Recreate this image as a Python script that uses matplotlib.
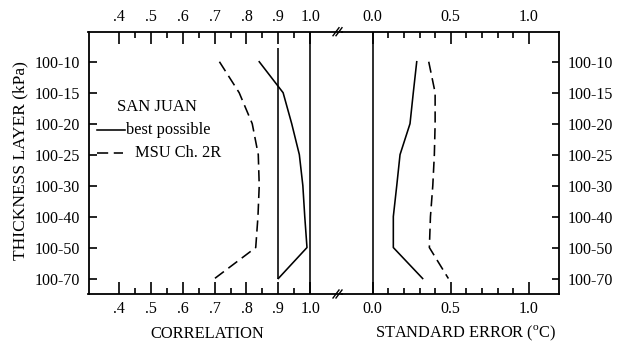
import matplotlib.pyplot as plt
from matplotlib.lines import Line2D
import numpy as np

plt.rcParams['font.family'] = ['Liberation Serif', 'DejaVu Serif']
plt.rcParams['mathtext.fontset'] = 'custom'
plt.rcParams['mathtext.rm'] = 'Liberation Serif'

# data
layers = ["100-10", "100-15", "100-20", "100-25", "100-30", "100-40", "100-50", "100-70"]
corr_best = [0.84, 0.915, 0.942, 0.966, 0.977, 0.983, 0.99, 0.90]
corr_msu = [0.715, 0.777, 0.818, 0.837, 0.84, 0.836, 0.829, 0.70]
se_best = [0.282, 0.26, 0.239, 0.175, 0.154, 0.132, 0.132, 0.32]
se_msu = [0.359, 0.40, 0.40, 0.395, 0.385, 0.37, 0.363, 0.485]

corr_ticks = [0.4, 0.5, 0.6, 0.7, 0.8, 0.9, 1.0]
corr_labels = [".4", ".5", ".6", ".7", ".8", ".9", "1.0"]
corr_minor = [0.45, 0.55, 0.65, 0.75, 0.85, 0.95]
se_ticks = [0.0, 0.5, 1.0]
se_labels = ["0.0", "0.5", "1.0"]
se_minor = [0.1, 0.2, 0.3, 0.4, 0.6, 0.7, 0.8, 0.9]

W, H = 622, 346
fig = plt.figure(figsize=(W / 100, H / 100), dpi=100)

# frame in pixels
x0, xmid, x1 = 88.5, 342.0, 559.3
ytop, ybot = 31.7, 294.0
bot = 1 - ybot / H
hgt = (ybot - ytop) / H
axL = fig.add_axes([x0 / W, bot, (xmid - x0) / W, hgt])
axR = fig.add_axes([xmid / W, bot, (x1 - xmid) / W, hgt])

y = np.arange(len(layers))
dash = (0, (7, 3.5))
lw = 1.15

# correlation panel
axL.plot(corr_best, y, color='black', lw=lw)
axL.plot(corr_msu, y, color='black', lw=lw, linestyle=dash)
axL.vlines(0.9, -0.45, 7, color='black', lw=lw)
axL.axvline(1.0, color='black', lw=lw)
axL.set_xlim(0.3037, 1.1)

# standard error panel
axR.plot(se_best, y, color='black', lw=lw)
axR.plot(se_msu, y, color='black', lw=lw, linestyle=dash)
axR.axvline(0.0, color='black', lw=lw)
axR.set_xlim(-0.197, 1.196)

for ax in (axL, axR):
    ax.set_ylim(7.5, -0.97)
    ax.set_yticks(y)
    for s in ax.spines.values():
        s.set_linewidth(1.3)
    ax.tick_params(axis='x', which='both', direction='in', top=True, bottom=True,
                   labeltop=True, labelbottom=True, labelsize=11.5, width=1.2, pad=5)
    ax.tick_params(axis='x', which='major', length=8.5)
    ax.tick_params(axis='x', which='minor', length=4.5)
    ax.set_facecolor('none')

axL.spines['right'].set_visible(False)
axR.spines['left'].set_visible(False)

axL.set_xticks(corr_ticks)
axL.set_xticklabels(corr_labels)
axL.set_xticks(corr_minor, minor=True)
axL.set_yticklabels(layers)
axL.tick_params(axis='y', direction='in', length=6, width=1.2, labelsize=11.5, pad=6)

axR.set_xticks(se_ticks)
axR.set_xticklabels(se_labels)
axR.set_xticks(se_minor, minor=True)
axR.yaxis.tick_right()
axR.set_yticklabels(layers)
axR.tick_params(axis='y', direction='in', length=5, width=1.2, labelsize=11.5, pad=6,
                left=False, right=True, labelleft=False, labelright=True)

# legend
axL.text(0.269, 0.714, "SAN JUAN", transform=axL.transAxes, ha='center', va='center', fontsize=12)
axL.add_line(Line2D([0.032, 0.144], [0.625, 0.625], transform=axL.transAxes, color='black', lw=lw))
axL.text(0.148, 0.625, "best possible", transform=axL.transAxes, ha='left', va='center', fontsize=11.8)
axL.add_line(Line2D([0.032, 0.136], [0.539, 0.539], transform=axL.transAxes, color='black',
                    lw=lw, linestyle=dash))
axL.text(0.183, 0.539, "MSU Ch. 2R", transform=axL.transAxes, ha='left', va='center', fontsize=11.8)

# axis break marks
for yy in (ytop, ybot):
    for dx in (-3, 0):
        xc = (xmid - 3 + dx) / W
        yc = 1 - yy / H
        fig.add_artist(Line2D([xc - 3 / W, xc + 3 / W], [yc - 4 / H, yc + 4 / H],
                              color='black', lw=1.0))

fig.text(207 / W, 1 - 334 / H, "CORRELATION", ha='center', va='center', fontsize=11.8)
fig.text(466 / W, 1 - 333 / H, "STANDARD ERROR ($^{\\rm o}$C)", ha='center', va='center', fontsize=11.8)
fig.text(20 / W, 1 - 161 / H, "THICKNESS LAYER (kPa)", rotation=90, ha='center', va='center', fontsize=12.5)

fig.savefig("out.png", dpi=100)
